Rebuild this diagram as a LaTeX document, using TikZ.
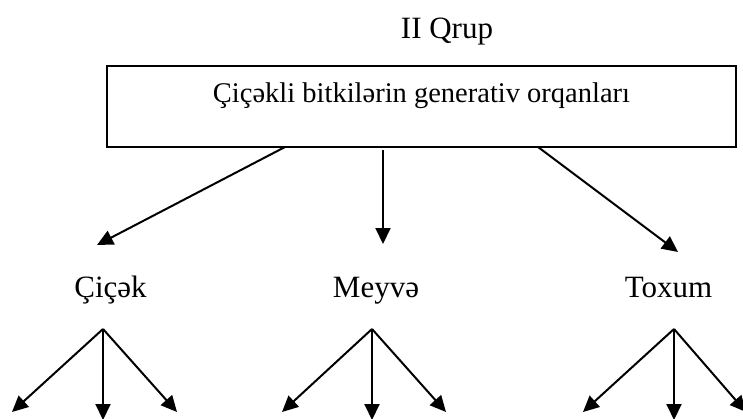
\documentclass[tikz,border=0pt]{standalone}
\usepackage{fontspec}
\setmainfont{Liberation Serif}
\usetikzlibrary{arrows.meta}
\begin{document}
\begin{tikzpicture}[x=1pt,y=1pt,
  conn/.style={line width=2pt,-{Triangle[length=16pt,width=15pt]}},
  lbl/.style={inner sep=0pt,anchor=base,font=\fontsize{31}{36}\selectfont},
  boxtext/.style={inner sep=0pt,anchor=base,font=\fontsize{28.5}{34}\selectfont},
  bigbox/.style={draw,line width=2pt,minimum width=629pt,minimum height=81pt,inner sep=0pt}]
\useasboundingbox (0,0) rectangle (743,418);
% title
\node[lbl] (title) at (447,379) {II Qrup};
% main box
\node[bigbox] (g) at (421.5,311.5) {};
\node[boxtext] (gt) at (421.5,315) {Çiçəkli bitkilərin generativ orqanları};
% level 1 labels
\node[lbl] (c) at (110.5,121) {Çiçək};
\node[lbl] (m) at (376,121) {Meyvə};
\node[lbl] (t) at (668.5,121) {Toxum};
% arrow start points on the box bottom and arrow ends
\coordinate (gs1) at (285,271);
\coordinate (gs2) at (383,268);
\coordinate (gs3) at (538,271);
\coordinate (ce) at (97,173);
\coordinate (me) at (383,174);
\coordinate (te) at (678,166);
\draw[conn] (gs1) -- (ce);
\draw[conn] (gs2) -- (me);
\draw[conn] (gs3) -- (te);
% forks
\coordinate (cf) at (103,89);
\coordinate (mf) at (372,89);
\coordinate (tf) at (674,89);
\coordinate (c1) at (12,6);
\coordinate (c2) at (103,-2);
\coordinate (c3) at (177,6);
\coordinate (m1) at (282,6);
\coordinate (m2) at (372,-2);
\coordinate (m3) at (446,6);
\coordinate (t1) at (583,6);
\coordinate (t2) at (674,-2);
\coordinate (t3) at (746,6);
\foreach \f/\e in {cf/c1,cf/c2,cf/c3,mf/m1,mf/m2,mf/m3,tf/t1,tf/t2,tf/t3}
  \draw[conn] (\f) -- (\e);
\end{tikzpicture}
\end{document}
